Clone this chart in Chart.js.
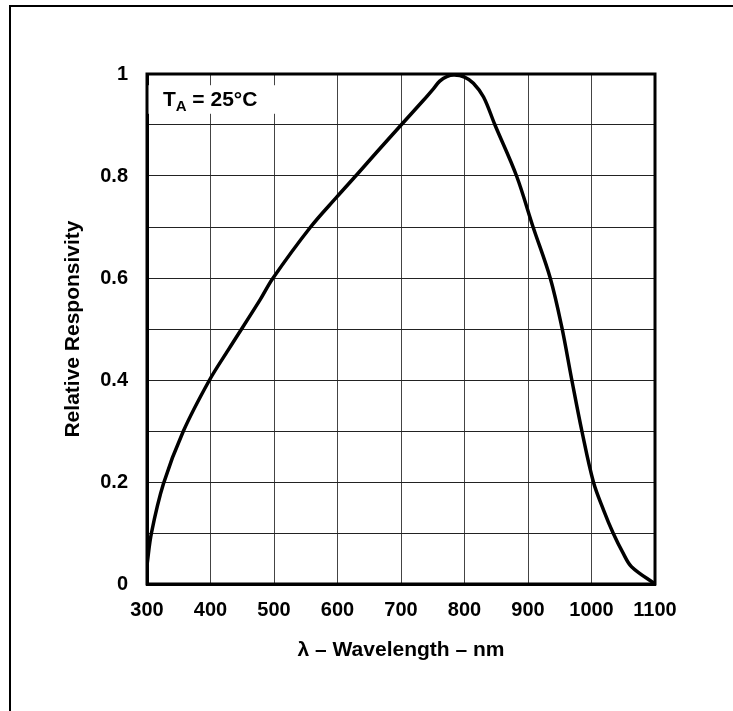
<!DOCTYPE html>
<html>
<head>
<meta charset="utf-8">
<script src="https://cdn.jsdelivr.net/npm/chart.js@4"></script>
<style>
  html, body { margin: 0; padding: 0; background: #fff; }
  #wrap { width: 733px; height: 711px; position: relative; }
</style>
</head>
<body>
<div id="wrap"><canvas id="myChart"></canvas></div>
<script>
const ctx = document.getElementById("myChart");

// curve
const wavelength = [300, 307, 326, 357, 398, 428, 478, 498, 557, 599, 630, 662, 698, 735, 751, 761, 772, 784, 800, 814, 830, 848, 882, 908, 935, 953, 969, 985, 1003, 1019, 1034, 1050, 1063, 1100];
const responsivity = [0.037, 0.10, 0.197, 0.299, 0.399, 0.459, 0.557, 0.599, 0.699, 0.759, 0.802, 0.847, 0.897, 0.948, 0.971, 0.986, 0.995, 0.998, 0.994, 0.982, 0.955, 0.90, 0.80, 0.70, 0.60, 0.505, 0.40, 0.299, 0.20, 0.145, 0.10, 0.06, 0.034, 0.0];

const yLabels = ["0", "0.2", "0.4", "0.6", "0.8", "1"];
const FONT = "'Liberation Sans', Arial, Helvetica, sans-serif";

const frame = {
  id: "frame",
  beforeDraw(chart) {
    const c = chart.ctx;
    c.save();
    c.fillStyle = "#fff";
    c.fillRect(0, 0, chart.width, chart.height);
    // page frame, left and top
    c.strokeStyle = "#000";
    c.lineWidth = 2;
    c.beginPath();
    c.moveTo(10, chart.height);
    c.lineTo(10, 6);
    c.lineTo(chart.width, 6);
    c.stroke();
    c.restore();
  },
  beforeDatasetsDraw(chart) {
    const c = chart.ctx;
    const x = chart.scales.x, y = chart.scales.y;
    const a = chart.chartArea;
    c.save();
    // white box behind the label
    const bx = x.getPixelForValue(301), bw = x.getPixelForValue(506) - bx;
    const by = y.getPixelForValue(0.978), bh = y.getPixelForValue(0.922) - by;
    c.fillStyle = "#fff";
    c.fillRect(bx, by, bw, bh);
    // T_A = 25°C
    c.fillStyle = "#000";
    c.textBaseline = "alphabetic";
    let tx = x.getPixelForValue(325);
    const ty = y.getPixelForValue(0.937);
    c.font = "bold 21px " + FONT;
    c.fillText("T", tx, ty);
    tx += c.measureText("T").width;
    c.font = "bold 15px " + FONT;
    c.fillText("A", tx, ty + 5);
    tx += c.measureText("A").width;
    c.font = "bold 21px " + FONT;
    c.fillText(" = 25\u00B0C", tx, ty);
    // plot frame
    c.strokeStyle = "#000";
    c.lineWidth = 3;
    c.strokeRect(a.left, a.top, a.right - a.left, a.bottom - a.top);
    c.restore();
  }
};

const chart = new Chart(ctx, {
  type: "line",
  data: {
    datasets: [{
      label: "Relative Responsivity",
      data: wavelength.map((w, i) => ({ x: w, y: responsivity[i] })),
      borderColor: "#000",
      borderWidth: 3.5,
      pointRadius: 0,
      tension: 0.35,
      fill: false
    }]
  },
  options: {
    responsive: true,
    maintainAspectRatio: false,
    animation: false,
    layout: { padding: { left: 0, top: 74, right: 78, bottom: 0 } },
    plugins: {
      legend: { display: false },
      tooltip: { enabled: false }
    },
    scales: {
      x: {
        type: "linear",
        min: 300,
        max: 1100,
        afterFit: (s) => { s.height = 127; },
        ticks: {
          stepSize: 100,
          padding: 14,
          color: "#000",
          font: { family: FONT, size: 20, weight: "bold" },
          callback: (v) => String(v)
        },
        grid: { color: "#444", lineWidth: 1, drawTicks: false },
        border: { color: "#000", width: 3 },
        title: {
          display: true,
          text: "\u03BB \u2013 Wavelength \u2013 nm",
          color: "#000",
          font: { family: FONT, size: 21, weight: "bold" },
          padding: { top: 0, bottom: 48 }
        }
      },
      y: {
        min: 0,
        max: 1,
        afterFit: (s) => { s.width = 147; },
        ticks: {
          stepSize: 0.1,
          padding: 19,
          color: "#000",
          font: { family: FONT, size: 20, weight: "bold" },
          callback: (v) => {
            const k = Math.round(v * 10);
            return k % 2 === 0 ? yLabels[k / 2] : "";
          }
        },
        grid: { color: "#222", lineWidth: 1, drawTicks: false },
        border: { color: "#000", width: 3 },
        title: {
          display: true,
          text: "Relative Responsivity",
          color: "#000",
          font: { family: FONT, size: 21, weight: "bold" },
          padding: { top: 61, bottom: 0 }
        }
      }
    }
  },
  plugins: [frame]
});
</script>
</body>
</html>
